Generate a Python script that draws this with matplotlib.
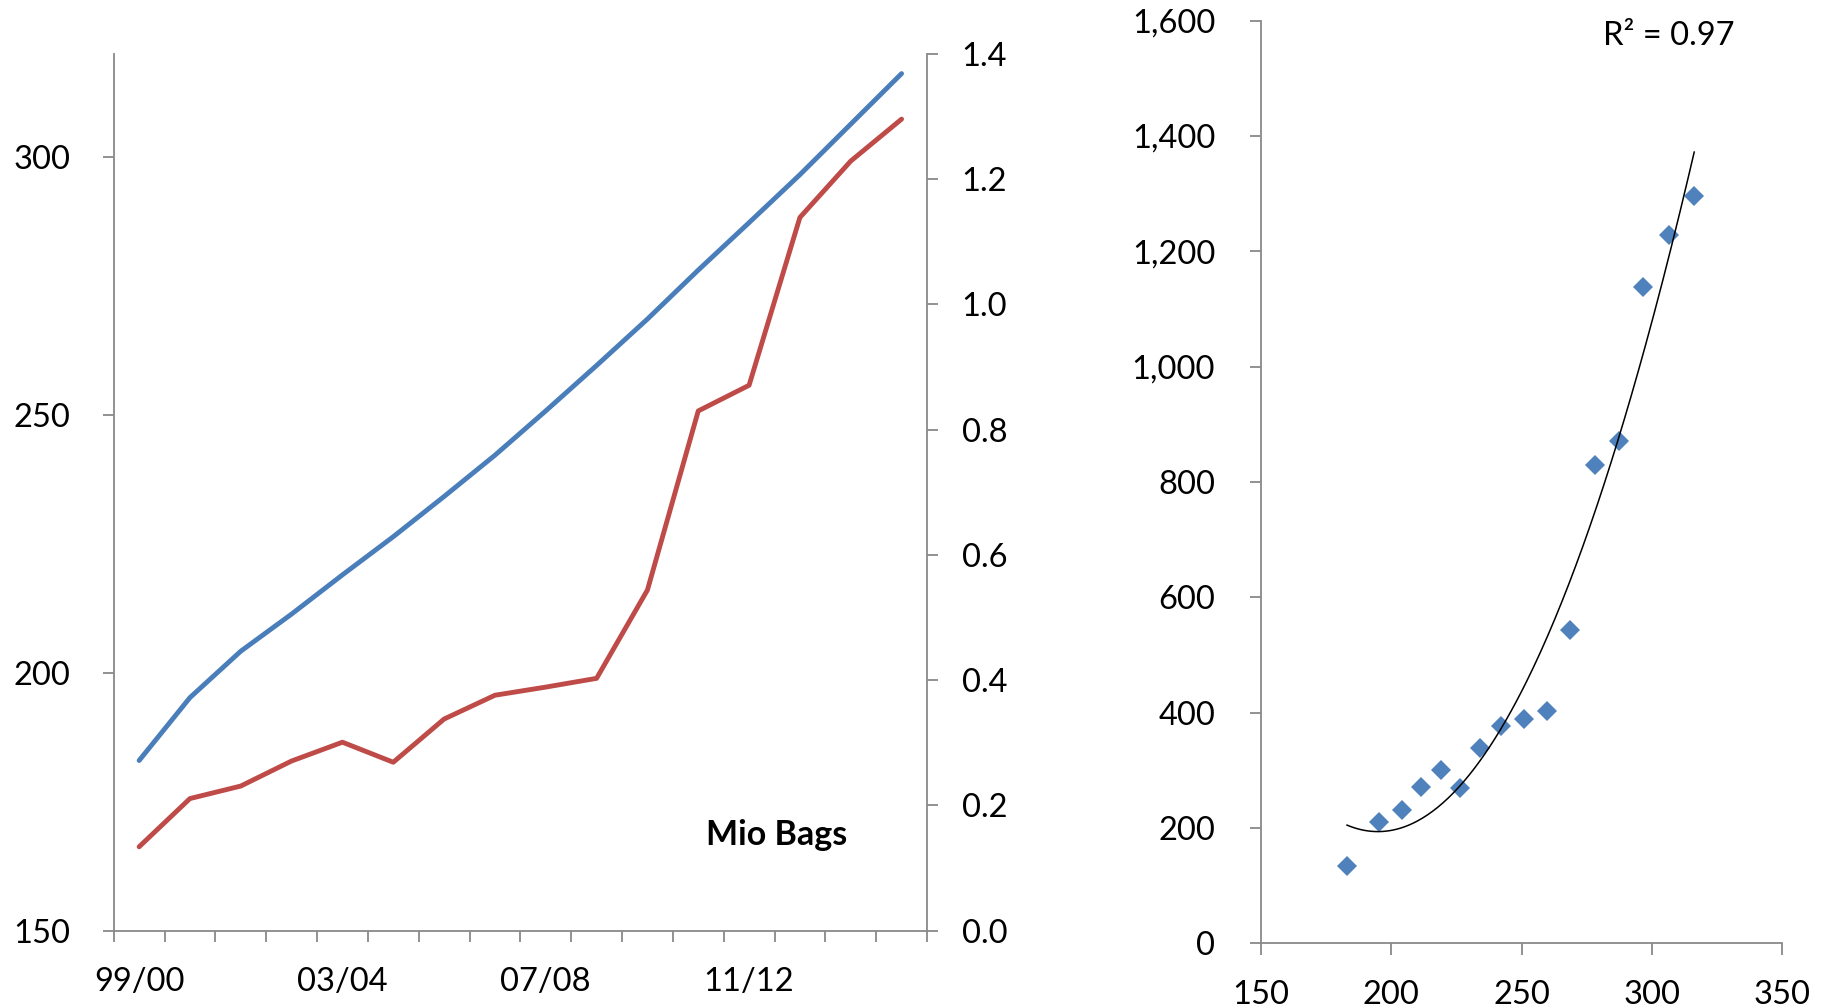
import numpy as np
import matplotlib
matplotlib.use("Agg")
import matplotlib.pyplot as plt
from matplotlib.ticker import FuncFormatter

plt.rcParams['font.family'] = ['Lato', 'DejaVu Sans']

# Seasons 1999/00 .. 2014/15
seasons = ["99/00", "00/01", "01/02", "02/03", "03/04", "04/05", "05/06", "06/07",
           "07/08", "08/09", "09/10", "10/11", "11/12", "12/13", "13/14", "14/15"]
labelled_seasons = ["99/00", "03/04", "07/08", "11/12"]

# Left axis series (blue)
blue_series = [183.0, 195.2, 204.2, 211.4, 219.0, 226.4, 234.2, 242.2,
               250.8, 259.6, 268.6, 278.1, 287.3, 296.6, 306.4, 316.2]
# Right axis series (red), in Mio Bags
red_series = [0.134, 0.211, 0.231, 0.271, 0.301, 0.269, 0.338, 0.376,
              0.389, 0.403, 0.544, 0.830, 0.871, 1.139, 1.229, 1.296]

left_ticks = [150, 200, 250, 300]
right_ticks = [0.0, 0.2, 0.4, 0.6, 0.8, 1.0, 1.2, 1.4]
scatter_xticks = [150, 200, 250, 300, 350]
scatter_yticks = [0, 200, 400, 600, 800, 1000, 1200, 1400, 1600]

BLUE = "#4A7EBB"
RED = "#BE4B48"
MARKER_BLUE = "#4F81BD"
AXIS_GREY = "#898989"
FS = 23.5

fig = plt.figure(figsize=(18.29, 10.08), dpi=100)
fig.patch.set_facecolor("white")

# ---------------- Left: dual-axis line chart ----------------
ax = fig.add_axes([0.06217, 0.07669, 0.44466, 0.86974])
ax2 = ax.twinx()

x = np.arange(len(seasons))
ax.plot(x, blue_series, color=BLUE, lw=3.5, solid_capstyle="round", zorder=3)
ax2.plot(x, red_series, color=RED, lw=3.5, solid_capstyle="round", zorder=3)

ax.set_xlim(-0.5, len(seasons) - 0.5)
ax.set_ylim(150, 320)
ax2.set_ylim(0, 1.4)

# category boundaries carry the tick marks, labels sit at category centres
ax.set_xticks(np.arange(len(seasons) + 1) - 0.5)
ax.set_xticklabels([])
ax.set_xticks([seasons.index(s) for s in labelled_seasons], minor=True)
ax.set_xticklabels(labelled_seasons, minor=True)
ax.tick_params(axis="x", which="major", direction="out", length=8, width=1.3,
               color=AXIS_GREY)
ax.tick_params(axis="x", which="minor", length=0, pad=26, labelsize=FS)

ax.set_yticks(left_ticks)
ax.tick_params(axis="y", direction="out", length=8, width=1.3, color=AXIS_GREY,
               pad=23, labelsize=FS)

ax2.set_yticks(right_ticks)
ax2.yaxis.set_major_formatter(FuncFormatter(lambda v, p: f"{v:.1f}"))
ax2.tick_params(axis="y", direction="out", length=8, width=1.3, color=AXIS_GREY,
                pad=17, labelsize=FS)

for a in (ax, ax2):
    a.spines["top"].set_visible(False)
    for side in ("left", "right", "bottom"):
        a.spines[side].set_color(AXIS_GREY)
        a.spines[side].set_linewidth(1.3)
ax.spines["right"].set_visible(False)
ax2.spines["left"].set_visible(False)
ax2.spines["bottom"].set_visible(False)

ax.text(0.7283, 0.0978, "Mio Bags", transform=ax.transAxes, fontsize=24.5,
        fontweight="bold", ha="left", va="baseline")

# ---------------- Right: scatter with polynomial trend ----------------
bx = fig.add_axes([0.68945, 0.06419, 0.28502, 0.91527])
sx = np.array(blue_series)
sy = np.array(red_series) * 1000.0

bx.plot(sx, sy, linestyle="none", marker="D", markersize=10,
        color=MARKER_BLUE, markeredgewidth=0, zorder=3)

coef = np.polyfit(sx, sy, 2)
fit = np.poly1d(coef)
xx = np.linspace(sx.min(), sx.max(), 200)
bx.plot(xx, fit(xx), color="black", lw=1.1, zorder=4)
r2 = 1 - np.sum((sy - fit(sx)) ** 2) / np.sum((sy - sy.mean()) ** 2)

bx.set_xlim(150, 350)
bx.set_ylim(0, 1600)
bx.set_xticks(scatter_xticks)
bx.set_yticks(scatter_yticks)
bx.yaxis.set_major_formatter(FuncFormatter(lambda v, p: f"{int(v):,}"))
bx.tick_params(axis="x", direction="out", length=8.5, width=1.3, color=AXIS_GREY,
               pad=18, labelsize=FS)
bx.tick_params(axis="y", direction="out", length=8, width=1.3, color=AXIS_GREY,
               pad=25, labelsize=FS)
bx.spines["top"].set_visible(False)
bx.spines["right"].set_visible(False)
for side in ("left", "bottom"):
    bx.spines[side].set_color(AXIS_GREY)
    bx.spines[side].set_linewidth(1.3)

bx.text(0.6555, 0.9737, f"R\u00b2 = {r2:.2f}", transform=bx.transAxes,
        fontsize=FS, ha="left", va="baseline")

fig.savefig("out.png", dpi=100, facecolor="white")
